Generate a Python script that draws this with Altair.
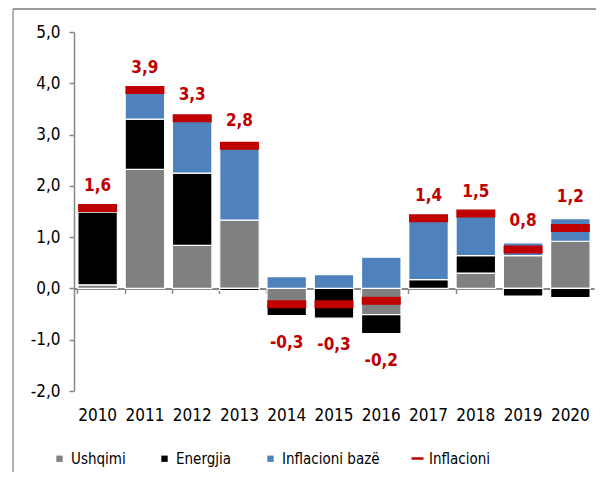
import altair as alt
import pandas as pd

years = ["2010", "2011", "2012", "2013", "2014", "2015", "2016", "2017", "2018", "2019", "2020"]
components = ["Ushqimi", "Energjia", "Inflacioni bazë"]
food = [0.07, 2.32, 0.84, 1.33, -0.28, 0.00, -0.51, 0.00, 0.30, 0.64, 0.92]
energy = [1.42, 0.98, 1.41, -0.04, -0.25, -0.58, -0.37, 0.17, 0.34, -0.15, -0.18]
core = [0.08, 0.57, 1.10, 1.50, 0.23, 0.27, 0.61, 1.17, 0.79, 0.25, 0.44]
inflation = [1.57, 3.87, 3.32, 2.78, -0.31, -0.31, -0.24, 1.37, 1.46, 0.76, 1.18]

comp_colors = ["#808080", "#000000", "#4F81BD"]
red = "#C00000"
FONT = "DejaVu Sans Condensed, Liberation Sans, sans-serif"

W, H = 520, 359

rows = []
for i, yr in enumerate(years):
    for k, vals in enumerate([food, energy, core]):
        rows.append({"year": yr, "component": components[k], "value": vals[i], "order": k})
bars_df = pd.DataFrame(rows)

t_rows = []
for i, yr in enumerate(years):
    vals = [food[i], energy[i], core[i]]
    pos = sum(v for v in vals if v > 0)
    neg = sum(v for v in vals if v < 0)
    v = inflation[i]
    anchor = max(pos, v) if v >= 0 else min(neg, v)
    t_rows.append({
        "year": yr,
        "inflation": v,
        "ilabel": "Inflacioni",
        "label": f"{v:.1f}".replace(".", ","),
        "anchor": anchor,
    })
infl_df = pd.DataFrame(t_rows)

x_scale = alt.Scale(domain=years, paddingInner=0.165, paddingOuter=0.0825)
y_scale = alt.Scale(domain=[-2, 5], nice=False, zero=False)

y_axis = alt.Axis(
    title=None, values=[-2, -1, 0, 1, 2, 3, 4, 5], grid=False,
    labelExpr="replace(replace(format(datum.value, '.1f'), '.', ','), '\u2212', '-')",
    domainColor="#888888", domainWidth=1.5, tickColor="#888888", tickWidth=1.5,
    tickSize=5, labelFontSize=17, labelPadding=9, labelColor="#000000",
)

x_line_axis = alt.Axis(
    title=None, orient="bottom", labels=False, domain=True, domainColor="#888888",
    domainWidth=2, ticks=True, tickColor="#888888", tickWidth=1.5, tickSize=5,
    bandPosition=0, offset=-(H * 2 / 7),
)

x_label_axis = alt.Axis(
    title=None, orient="bottom", domain=False, ticks=False, labelFontSize=17,
    labelPadding=16, labelColor="#000000", labelAngle=0,
)

bars = alt.Chart(bars_df).mark_bar(stroke="white", strokeWidth=1.2, opacity=1).encode(
    x=alt.X("year:N", scale=x_scale, axis=x_line_axis),
    y=alt.Y("value:Q", stack="zero", scale=y_scale, axis=y_axis),
    color=alt.Color(
        "component:N",
        scale=alt.Scale(domain=components, range=comp_colors),
        legend=alt.Legend(
            title=None, orient="none", legendX=-22, legendY=419, direction="horizontal",
            symbolType="square", symbolSize=40, symbolStrokeWidth=0, labelFontSize=15,
            labelOffset=4, columnPadding=31, labelColor="#000000", symbolOpacity=1,
        ),
    ),
    order=alt.Order("order:Q", sort="ascending"),
)

ticks = alt.Chart(infl_df).mark_tick(thickness=8, size=39, opacity=1).encode(
    x=alt.X("year:N", scale=x_scale, axis=None),
    y=alt.Y("inflation:Q", scale=y_scale),
    color=alt.Color(
        "ilabel:N",
        scale=alt.Scale(domain=["Inflacioni"], range=[red]),
        legend=alt.Legend(
            title=None, orient="none", legendX=336, legendY=419,
            symbolType="stroke", symbolSize=144, symbolStrokeWidth=2.5,
            symbolStrokeColor=red, symbolFillColor=red, symbolOpacity=1,
            labelFontSize=15, labelOffset=4, labelColor="#000000",
        ),
    ),
)

pos_text = alt.Chart(infl_df).transform_filter("datum.inflation >= 0").mark_text(
    dy=-22, baseline="middle", fontSize=17, fontWeight="bold", color=red
).encode(
    x=alt.X("year:N", scale=x_scale, axis=x_label_axis),
    y=alt.Y("anchor:Q", scale=y_scale),
    text="label:N",
)

neg_text = alt.Chart(infl_df).transform_filter("datum.inflation < 0").mark_text(
    dy=27, baseline="middle", fontSize=17, fontWeight="bold", color=red
).encode(
    x=alt.X("year:N", scale=x_scale, axis=None),
    y=alt.Y("anchor:Q", scale=y_scale),
    text="label:N",
)

frame_df = pd.DataFrame({"f": [0]})
frame_v = alt.Chart(frame_df).mark_rule(color="#9a9a9a", strokeWidth=1.5).encode(
    x=alt.value(-61), y=alt.value(-23), y2=alt.value(H + 81)
)
frame_h = alt.Chart(frame_df).mark_rule(color="#9a9a9a", strokeWidth=2).encode(
    x=alt.value(-61), x2=alt.value(W + 2), y=alt.value(-23)
)

chart = (
    alt.layer(bars, ticks, pos_text, neg_text, frame_v, frame_h)
    .resolve_scale(color="independent")
    .resolve_axis(x="independent")
    .properties(
        width=W, height=H,
        padding={"left": 66, "top": 24, "right": 2, "bottom": 81},
        autosize=alt.AutoSizeParams(type="none"),
    )
    .configure(font=FONT)
    .configure_view(stroke=None)
)

chart.save("out.html", embed_options={"renderer": "svg", "actions": False})
